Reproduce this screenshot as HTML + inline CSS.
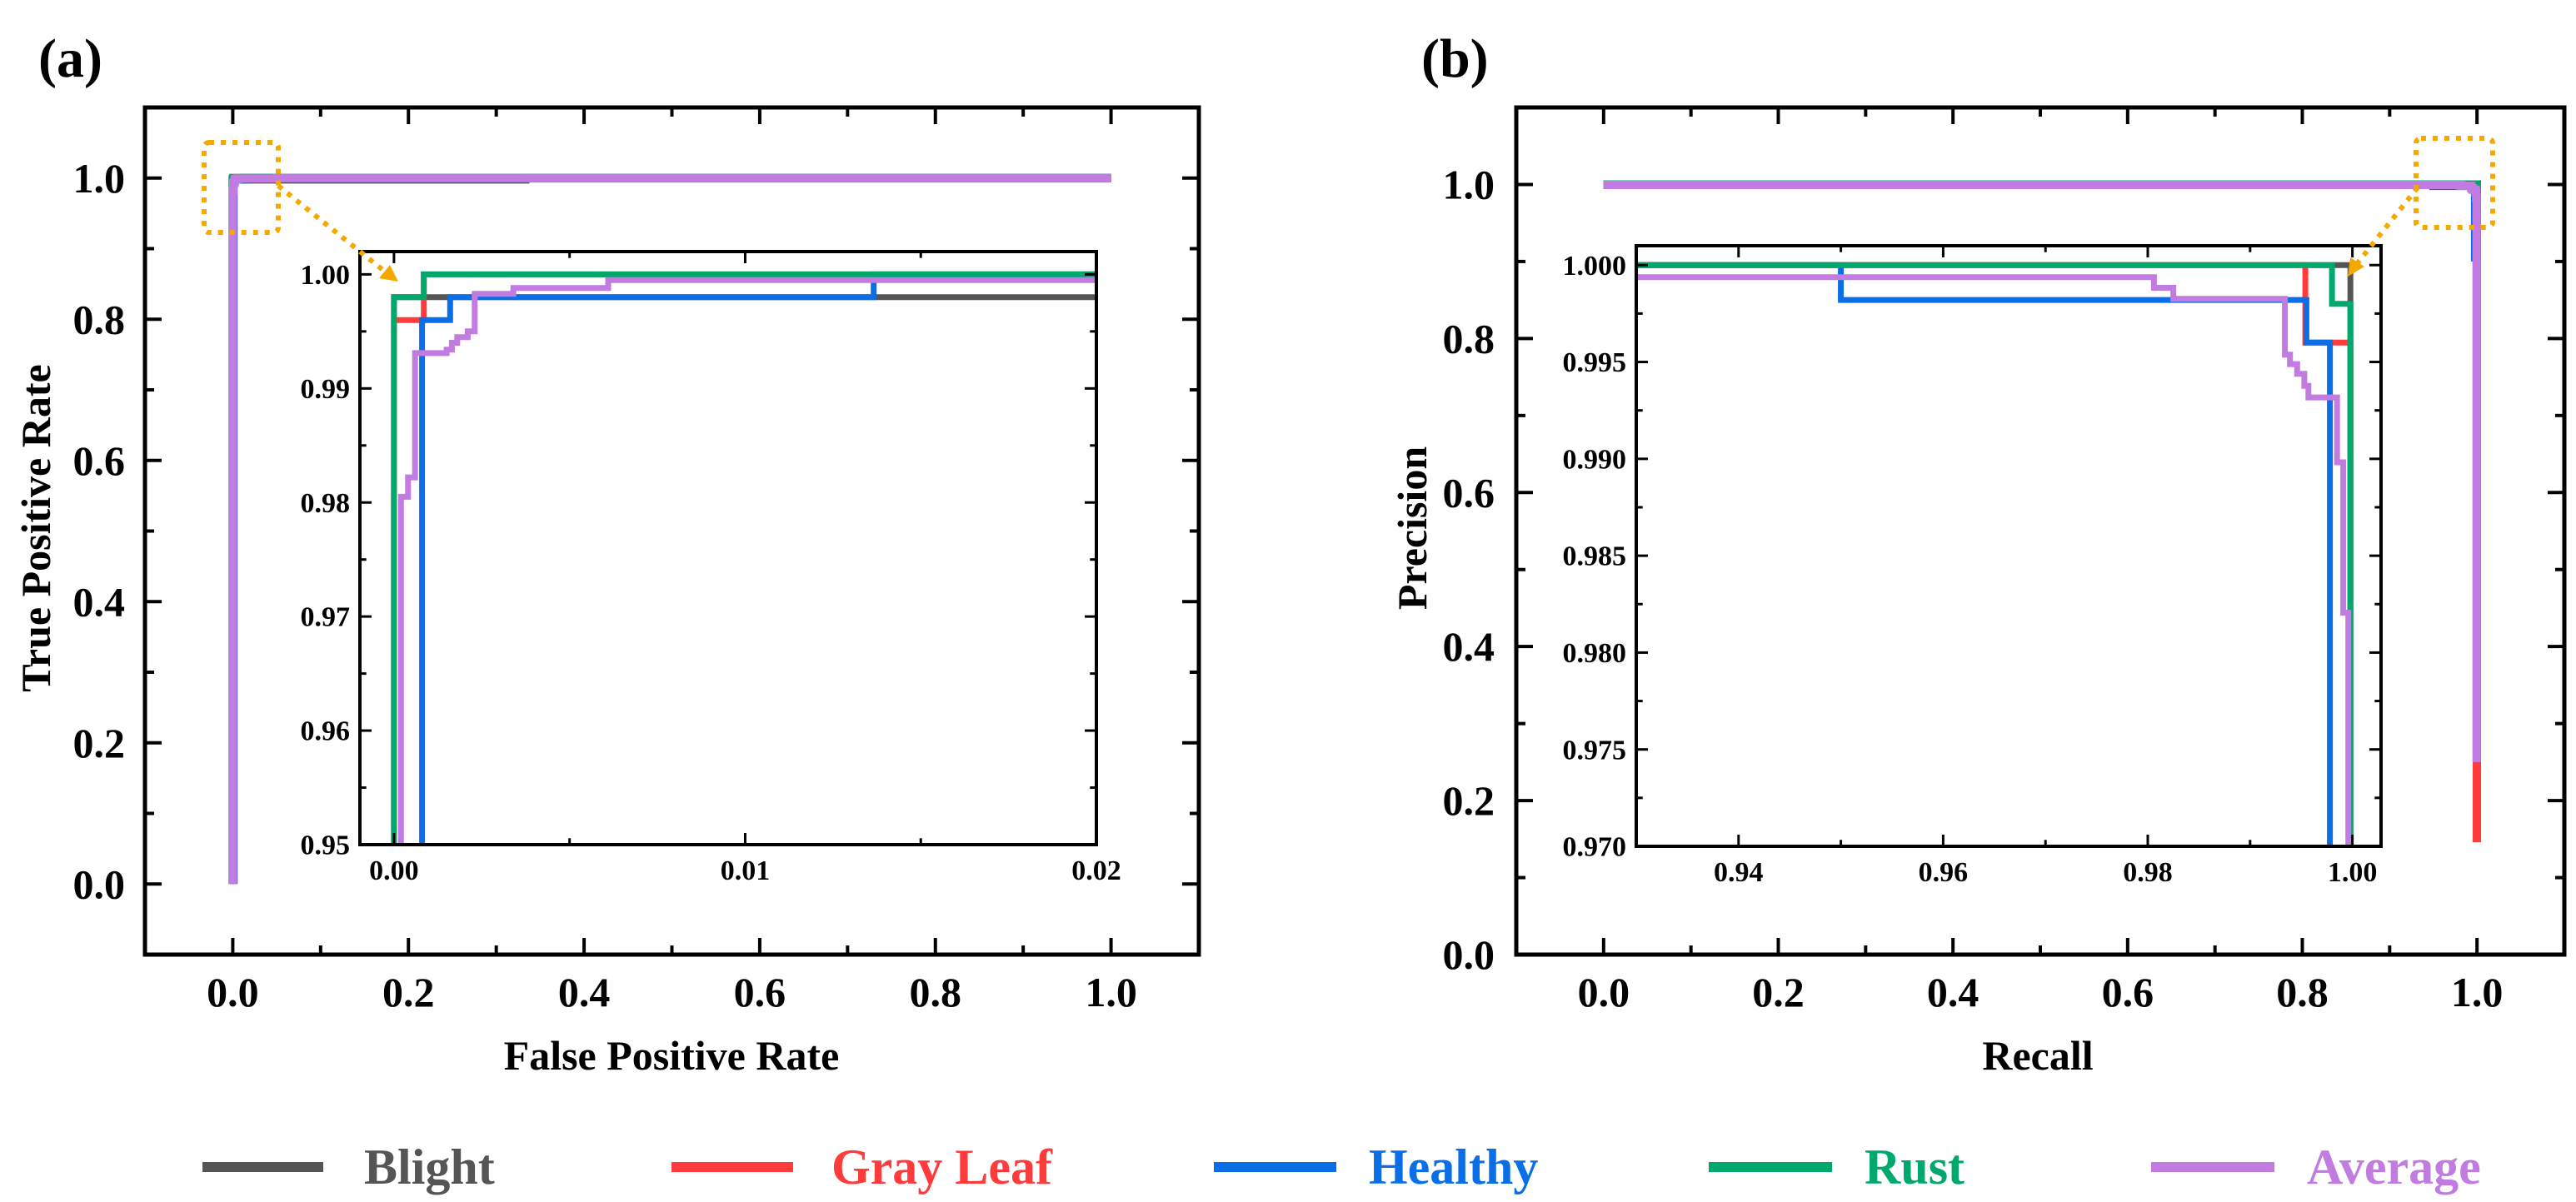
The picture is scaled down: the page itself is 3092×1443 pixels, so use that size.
<!DOCTYPE html>
<html><head><meta charset="utf-8"><style>
html,body{margin:0;padding:0;background:#fff;overflow:hidden;width:3092px;height:1443px;}
svg{display:block;font-family:"Liberation Serif",serif;font-weight:bold;}
</style></head><body>
<svg id="fig" width="3092" height="1443" viewBox="0 0 3092 1443" xmlns="http://www.w3.org/2000/svg">
<rect width="3092" height="1443" fill="#fff"/>
<text x="46" y="92" font-size="66">(a)</text>
<text x="1706" y="92" font-size="66">(b)</text>
<g id="layer"></g>
<g>
<line x1="243" y1="1401" x2="388" y2="1401" stroke="#555555" stroke-width="12"/>
<text x="437" y="1421" font-size="60" fill="#555555">Blight</text>
<line x1="806" y1="1401" x2="952" y2="1401" stroke="#ff3b3b" stroke-width="12"/>
<text x="998" y="1421" font-size="60" fill="#ff3b3b">Gray Leaf</text>
<line x1="1457" y1="1401" x2="1604" y2="1401" stroke="#0a6fe6" stroke-width="12"/>
<text x="1643" y="1421" font-size="60" fill="#0a6fe6">Healthy</text>
<line x1="2051" y1="1401" x2="2199" y2="1401" stroke="#00a86b" stroke-width="12"/>
<text x="2238" y="1421" font-size="60" fill="#00a86b">Rust</text>
<line x1="2582" y1="1401" x2="2730" y2="1401" stroke="#c27be0" stroke-width="12"/>
<text x="2769" y="1421" font-size="60" fill="#c27be0">Average</text>
</g>
</svg>
<script>
// ROC data [fpr, tpr]
const rocBlight=[[0,0],[0,0.998],[0.333,0.998],[0.333,1],[1,1]];
const rocGray=[[0,0],[0,0.996],[0.00085,0.996],[0.00085,1],[1,1]];
const rocRust=[[0,0],[0,0.998],[0.00085,0.998],[0.00085,1],[1,1]];
const rocHealthy=[[0.0008,0],[0.0008,0.996],[0.0016,0.996],[0.0016,0.998],[0.01366,0.998],[0.01366,1],[1,1]];
const rocAverage=[[0.0002,0],[0.0002,0.9805],[0.0004,0.9805],[0.0004,0.9822],[0.0006,0.9822],[0.0006,0.9931],[0.0015,0.9931],[0.0015,0.9934],[0.00165,0.9934],[0.00165,0.994],[0.0018,0.994],[0.0018,0.9945],[0.0021,0.9945],[0.0021,0.995],[0.0023,0.995],[0.0023,0.9983],[0.0034,0.9983],[0.0034,0.9988],[0.0061,0.9988],[0.0061,0.9995],[0.05,0.9995],[0.05,1],[1,1]];
// PR data [recall, precision]
const prBlight=[[0,1],[0.9998,1],[0.9998,0.55]];
const prGray=[[0,1],[0.9954,1],[0.9954,0.996],[0.9998,0.996],[0.9998,0.146]];
const prRust=[[0,1],[0.998,1],[0.998,0.998],[0.9998,0.998],[0.9998,0.9]];
const prHealthy=[[0,1],[0.95,1],[0.95,0.9982],[0.9955,0.9982],[0.9955,0.996],[0.9978,0.996],[0.9978,0.9]];
const prAverage=[[0,0.99938],[0.9806,0.99938],[0.9806,0.99883],[0.9825,0.99883],[0.9825,0.99826],[0.9934,0.99826],[0.9934,0.99538],[0.9939,0.99538],[0.9939,0.99489],[0.9946,0.99489],[0.9946,0.99439],[0.9953,0.99439],[0.9953,0.99377],[0.9957,0.99377],[0.9957,0.99317],[0.9985,0.99317],[0.9985,0.98982],[0.9991,0.98982],[0.9991,0.98206],[0.9996,0.98206],[0.9996,0.25]];
const mainTicks=[0,0.2,0.4,0.6,0.8,1.0];
const mainTickLabels=["0.0","0.2","0.4","0.6","0.8","1.0"];
const insetAXTicks=[0,0.01,0.02];
const insetAXLabels=["0.00","0.01","0.02"];
const insetAYTicks=[0.95,0.96,0.97,0.98,0.99,1.0];
const insetAYLabels=["0.95","0.96","0.97","0.98","0.99","1.00"];
const insetBXTicks=[0.94,0.96,0.98,1.0];
const insetBXLabels=["0.94","0.96","0.98","1.00"];
const insetBYTicks=[0.97,0.975,0.98,0.985,0.99,0.995,1.0];
const insetBYLabels=["0.970","0.975","0.980","0.985","0.990","0.995","1.000"];

const NS="http://www.w3.org/2000/svg";
const layer=document.getElementById('layer');
const colors={blight:"#555555",gray:"#ff3b3b",healthy:"#0a6fe6",rust:"#00a86b",average:"#c27be0"};
let clipId=0;
function mk(tag,attrs,parent){const e=document.createElementNS(NS,tag);for(const k in attrs)e.setAttribute(k,attrs[k]);(parent||layer).appendChild(e);return e;}

function panel(o){
  const g=mk('g',{});
  
  
  const sx=v=>o.x0+(v-o.xmin)/(o.xmax-o.xmin)*(o.x1-o.x0);
  const sy=v=>o.y1-(v-o.ymin)/(o.ymax-o.ymin)*(o.y1-o.y0);
  mk('rect',{x:o.x0,y:o.y0,width:o.x1-o.x0,height:o.y1-o.y0,fill:'#fff'},g);
  const cid='c'+(clipId++);
  const cp=mk('clipPath',{id:cid},g);
  mk('rect',{x:o.x0,y:o.y0,width:o.x1-o.x0,height:o.y1-o.y0},cp);
  const cg=mk('g',{'clip-path':'url(#'+cid+')'},g);
  o.series.forEach(s=>{
    const d=s.data.map((p,i)=>(i?'L':'M')+sx(p[0]).toFixed(1)+' '+sy(p[1]).toFixed(1)).join(' ');
    const path=mk('path',{d:d,fill:'none',stroke:s.color,'stroke-width':o.lw,'stroke-linejoin':'miter'},cg);
    
    
  });
  const tk=o.tk, tm=o.tk*0.55;
  for(let v=o.xminor[0];v<=o.xminor[1]+1e-9;v+=o.xminor[2]){
    const maj=o.xt.some(t=>Math.abs(t-v)<1e-9);const L=maj?tk:tm;const X=sx(v);
    mk('line',{x1:X,y1:o.y1,x2:X,y2:o.y1-L,stroke:'#000','stroke-width':o.tw},g);
    mk('line',{x1:X,y1:o.y0,x2:X,y2:o.y0+L,stroke:'#000','stroke-width':o.tw},g);
  }
  for(let v=o.yminor[0];v<=o.yminor[1]+1e-9;v+=o.yminor[2]){
    const maj=o.yt.some(t=>Math.abs(t-v)<1e-9);const L=maj?tk:tm;const Y=sy(v);
    mk('line',{x1:o.x0,y1:Y,x2:o.x0+L,y2:Y,stroke:'#000','stroke-width':o.tw},g);
    mk('line',{x1:o.x1,y1:Y,x2:o.x1-L,y2:Y,stroke:'#000','stroke-width':o.tw},g);
  }
  mk('rect',{x:o.x0,y:o.y0,width:o.x1-o.x0,height:o.y1-o.y0,fill:'none',stroke:'#000','stroke-width':o.bw},g);
  o.xt.forEach((v,i)=>{
    const t=mk('text',{x:sx(v),y:o.y1+o.xlOff,'font-size':o.fs,'text-anchor':'middle'},g);
    t.textContent=o.xl[i];
    
    
  });
  o.yt.forEach((v,i)=>{
    const t=mk('text',{x:o.x0-o.ylOff,y:sy(v)+o.fs*0.34,'font-size':o.fs,'text-anchor':'end'},g);
    t.textContent=o.yl[i];
    
    
  });
}

const rocSeries=[
 {name:'roc-blight',color:colors.blight,data:rocBlight},
 {name:'roc-gray-leaf',color:colors.gray,data:rocGray},
 {name:'roc-healthy',color:colors.healthy,data:rocHealthy},
 {name:'roc-rust',color:colors.rust,data:rocRust},
 {name:'roc-average',color:colors.average,data:rocAverage}];
const prSeries=[
 {name:'pr-blight',color:colors.blight,data:prBlight},
 {name:'pr-gray-leaf',color:colors.gray,data:prGray},
 {name:'pr-healthy',color:colors.healthy,data:prHealthy},
 {name:'pr-rust',color:colors.rust,data:prRust},
 {name:'pr-average',color:colors.average,data:prAverage}];

panel({name:'roc-main',x0:174,x1:1439,y0:129,y1:1146,xmin:-0.1,xmax:1.1,ymin:-0.1,ymax:1.1,
 series:rocSeries,lw:10,tk:20,tw:4,bw:5,xt:mainTicks,xl:mainTickLabels,yt:mainTicks,yl:mainTickLabels,
 xminor:[0,1,0.1],yminor:[0,1,0.1],fs:50,xlOff:62,ylOff:24});
panel({name:'roc-inset',x0:432,x1:1316,y0:302,y1:1014,xmin:-0.00097,xmax:0.02,ymin:0.95,ymax:1.002,
 series:rocSeries,lw:7,tk:14,tw:3,bw:4,xt:insetAXTicks,xl:insetAXLabels,yt:insetAYTicks,yl:insetAYLabels,
 xminor:[0,0.02,0.005],yminor:[0.95,1.0,0.005],fs:34,xlOff:42,ylOff:12});
panel({name:'pr-main',x0:1820,x1:3078,y0:129,y1:1146,xmin:-0.1,xmax:1.1,ymin:0,ymax:1.1,
 series:prSeries,lw:10,tk:20,tw:4,bw:5,xt:mainTicks,xl:mainTickLabels,yt:mainTicks,yl:mainTickLabels,
 xminor:[0,1,0.1],yminor:[0,1,0.1],fs:50,xlOff:62,ylOff:26});
panel({name:'pr-inset',x0:1964,x1:2858,y0:295,y1:1016,xmin:0.93,xmax:1.0028,ymin:0.97,ymax:1.001,
 series:prSeries,lw:7,tk:14,tw:3,bw:4,xt:insetBXTicks,xl:insetBXLabels,yt:insetBYTicks,yl:insetBYLabels,
 xminor:[0.94,1.0,0.01],yminor:[0.97,1.0,0.0025],fs:34,xlOff:42,ylOff:12});

function title(txt,x,y,rot,name){const t=mk('text',{x:x,y:y,'font-size':50,'text-anchor':'middle',transform:rot?'rotate(-90 '+x+' '+y+')':''});t.textContent=txt;
 }
title('False Positive Rate',806,1284,false,'x-axis-title-a');
title('True Positive Rate',60,634,true,'y-axis-title-a');
title('Recall',2446,1284,false,'x-axis-title-b');
title('Precision',1712,634,true,'y-axis-title-b');

const og=mk('g',{});


const oc='#f5a800';
mk('rect',{x:245,y:171,width:89,height:108,rx:6,fill:'none',stroke:oc,'stroke-width':6,'stroke-dasharray':'6 8'},og);
mk('line',{x1:334,y1:223,x2:462,y2:326,stroke:oc,'stroke-width':6,'stroke-dasharray':'6 8'},og);
mk('polygon',{points:'478,338 455,334 468,318',fill:oc},og);
mk('rect',{x:2900,y:166,width:92,height:107,rx:6,fill:'none',stroke:oc,'stroke-width':6,'stroke-dasharray':'6 8'},og);
mk('line',{x1:2902,y1:225,x2:2828,y2:318,stroke:oc,'stroke-width':6,'stroke-dasharray':'6 8'},og);
mk('polygon',{points:'2818,332 2821,309 2838,320',fill:oc},og);
</script>
</body></html>
